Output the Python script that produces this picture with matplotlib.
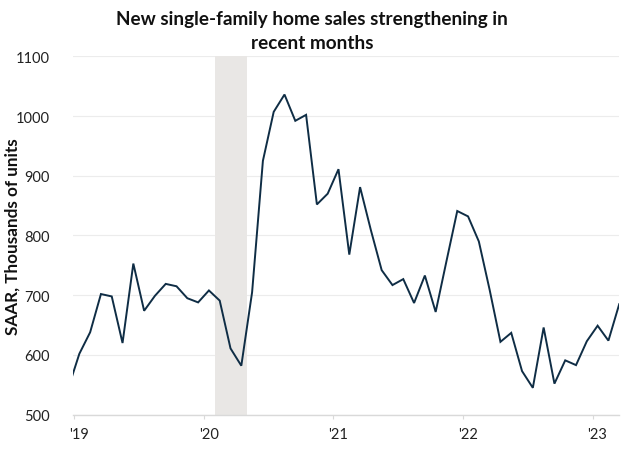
import matplotlib
matplotlib.use("Agg")
import matplotlib.pyplot as plt
import matplotlib.transforms as mtransforms
import numpy as np

# Monthly data, Dec 2018 .. Mar 2023 (SAAR, thousands of units)
months = ["2018-12",
          "2019-01", "2019-02", "2019-03", "2019-04", "2019-05", "2019-06",
          "2019-07", "2019-08", "2019-09", "2019-10", "2019-11", "2019-12",
          "2020-01", "2020-02", "2020-03", "2020-04", "2020-05", "2020-06",
          "2020-07", "2020-08", "2020-09", "2020-10", "2020-11", "2020-12",
          "2021-01", "2021-02", "2021-03", "2021-04", "2021-05", "2021-06",
          "2021-07", "2021-08", "2021-09", "2021-10", "2021-11", "2021-12",
          "2022-01", "2022-02", "2022-03", "2022-04", "2022-05", "2022-06",
          "2022-07", "2022-08", "2022-09", "2022-10", "2022-11", "2022-12",
          "2023-01", "2023-02", "2023-03"]
sales = [546,
         602, 638, 702, 698, 620, 753,
         674, 699, 719, 715, 695, 688,
         708, 691, 611, 582, 705, 925,
         1007, 1036, 992, 1002, 852, 870,
         911, 768, 881, 809, 742, 717,
         727, 687, 733, 672, 757, 841,
         832, 790, 709, 622, 637, 573,
         545, 646, 552, 591, 583, 623,
         649, 624, 685]

tick_labels = ["'19", "'20", "'21", "'22", "'23"]
tick_years = [2019, 2020, 2021, 2022, 2023]
recession = ("2020-02", "2020-04")

def month_index(s, mid=True):
    y, m = map(int, s.split("-"))
    return (y - 2019) * 12 + (m - 1) + (0.47 if mid else 0.0)

x = np.array([month_index(m) for m in months])

fig = plt.figure(figsize=(6.24, 4.52), dpi=100)
ax = fig.add_axes([73.3 / 624, 1 - 415.7 / 452, (619 - 73.3) / 624, (415.7 - 57.3) / 452])

ax.axvspan(month_index(recession[0], mid=False), month_index(recession[1], mid=False) + 0.97,
           color="#e9e7e5", lw=0, zorder=1)
ax.plot(x, sales, color="#0f2d45", lw=1.4, zorder=3, solid_joinstyle="miter")

ax.set_ylim(500, 1100)
ax.set_xlim(-0.09, 50.45)
ax.set_yticks(range(500, 1101, 100))
ax.grid(axis="y", color="#ececec", lw=0.8, zorder=0)
ax.set_axisbelow(True)

xt = [(yy - 2019) * 12 for yy in tick_years]
ax.set_xticks(xt)
ax.set_xticklabels(tick_labels)

for s in ["top", "right", "left"]:
    ax.spines[s].set_visible(False)
ax.spines["bottom"].set_color("#d9d9d9")
ax.spines["bottom"].set_linewidth(1.0)

font = "Lato"
ax.tick_params(axis="y", left=False, length=0, pad=17, labelsize=10.5, labelcolor="#222222")
ax.tick_params(axis="x", length=3, width=0.8, direction="out", color="#d9d9d9", pad=6,
               labelsize=10.5, labelcolor="#222222")
for lab in ax.get_yticklabels() + ax.get_xticklabels():
    lab.set_fontfamily(font)
offset = mtransforms.ScaledTranslation(5 / 100, 0, fig.dpi_scale_trans)
for lab in ax.get_xticklabels():
    lab.set_transform(lab.get_transform() + offset)

ax.set_ylabel("SAAR, Thousands of units", fontsize=12.3, fontweight="bold",
              fontfamily=font, color="#111111")
ax.yaxis.set_label_coords(-(73.3 - 20.5) / 545.7, 0.5)

fig.text(0.5, 1 - 31.5 / 452, "New single-family home sales strengthening in\nrecent months",
         ha="center", va="center", fontsize=13.6, fontweight="bold", fontfamily=font,
         color="#111111", linespacing=1.5)

fig.savefig("out.png", dpi=100)
